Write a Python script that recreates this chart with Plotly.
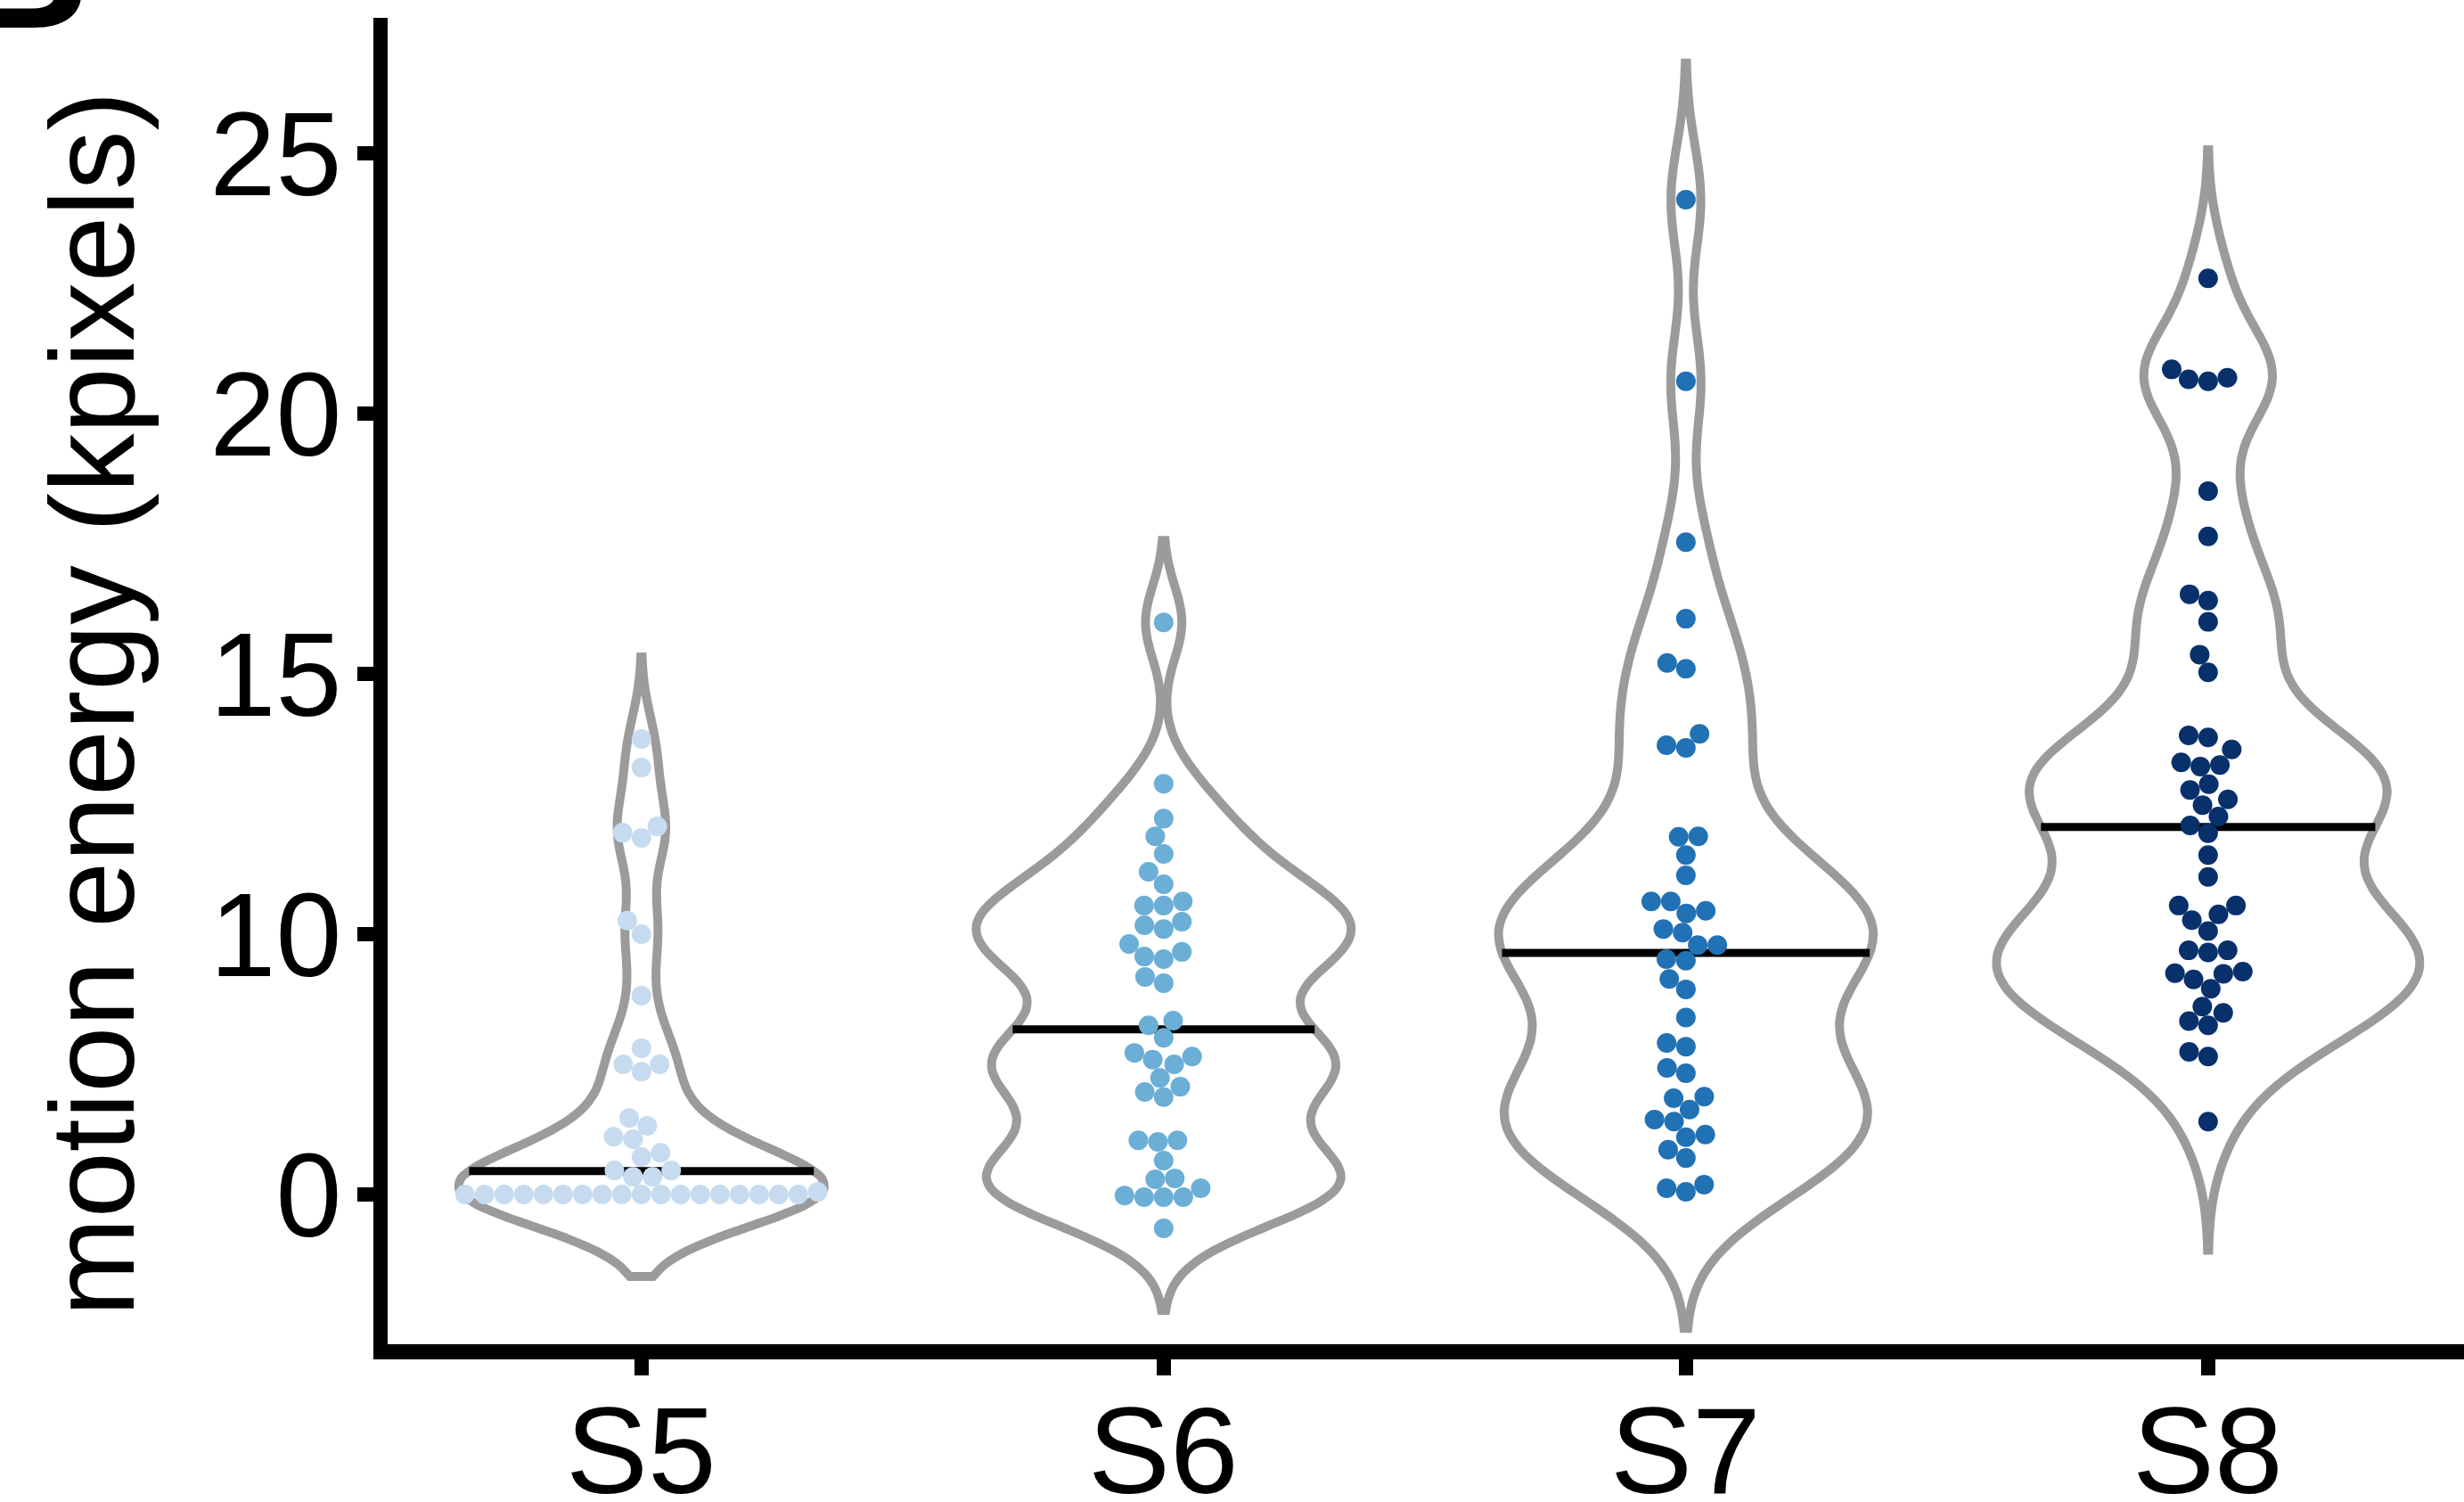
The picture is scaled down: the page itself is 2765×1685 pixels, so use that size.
import numpy as np
import plotly.graph_objects as go

# ---------------- data ----------------
categories = ["S5", "S6", "S7", "S8"]

s5_values = [13.75, 13.20, 12.07, 11.95, 11.85, 10.26, 10.00, 8.82, 7.81, 7.50,
             7.50, 7.36, 6.47, 6.32, 6.11, 6.06, 5.80, 5.72, 5.46, 5.46,
             5.34, 5.34, 5.05, 5.00, 5.00, 5.00, 5.00, 5.00, 5.00, 5.00,
             5.00, 5.00, 5.00, 5.00, 5.00, 5.00, 5.00, 5.00, 5.00, 5.00, 5.00]
s6_values = [15.99, 12.89, 12.22, 11.88, 11.54, 11.20, 10.96, 10.63, 10.55, 10.55,
             10.24, 10.10, 10.17, 9.81, 9.57, 9.52, 9.66, 9.18, 9.06, 8.25,
             8.34, 8.01, 7.72, 7.59, 7.50, 7.65, 7.24, 6.97, 6.87, 7.07,
             6.04, 6.01, 6.04, 5.65, 5.29, 5.31, 4.98, 4.95, 4.95, 4.95,
             5.12, 4.35]
s7_values = [24.11, 20.62, 17.53, 16.06, 15.21, 15.10, 13.63, 13.58, 13.85, 11.87,
             11.88, 11.52, 11.13, 10.63, 10.63, 10.45, 10.40, 10.03, 10.10, 9.79,
             9.79, 9.52, 9.49, 9.14, 8.94, 8.40, 7.91, 7.84, 7.43, 7.33,
             6.85, 6.88, 6.63, 6.44, 6.40, 6.10, 6.15, 5.86, 5.70, 5.12,
             5.05, 5.19]
s8_values = [22.60, 20.85, 20.66, 20.62, 20.69, 18.51, 17.64, 16.53, 16.41, 16.00,
             15.37, 15.03, 13.82, 13.78, 13.55, 13.30, 13.22, 13.25, 12.88, 12.77,
             12.59, 12.48, 12.26, 12.09, 11.94, 11.52, 11.10, 10.55, 10.55, 10.38,
             10.27, 10.06, 9.69, 9.65, 9.69, 9.28, 9.24, 9.25, 9.13, 8.95,
             8.61, 8.49, 8.33, 8.25, 7.74, 7.65, 6.40]
medians = [5.45, 8.17, 9.64, 12.06]

y_tick_values = [5, 10, 15, 20, 25]
y_tick_labels = ["0", "10", "15", "20", "25"]
y_title = "motion energy (kpixels)"
panel_label = "B"

# ---------------- styling / layout ----------------
series = [s5_values, s6_values, s7_values, s8_values]
dot_colors = ["#c6dbef", "#6baed6", "#2171b5", "#08306b"]
violin_widths = [0.695, 0.717, 0.717, 0.807]
bandwidths = [0.70, 0.70, 1.05, 0.95]
cuts = [2.25, 2.25, 2.5, 2.6]
FONT = "Liberation Sans, Arial, Helvetica, sans-serif"

W, H = 2765, 1685
M_L, M_R, M_T, M_B = 435, 0, 20, 177
x_range = [-0.486, 3.49]
y_range = [2.123, 27.603]
PW = W - M_L - M_R
PH = H - M_T - M_B
px_per_x = PW / (x_range[1] - x_range[0])
px_per_y = PH / (y_range[1] - y_range[0])

DOT = 22
positions = list(range(len(categories)))


def swarm_offsets(values, d_px):
    """Beeswarm ('swarm' method, ascending priority) offsets in pixels."""
    ys = np.asarray(values, dtype=float) * px_per_y
    order = np.argsort(ys, kind="stable")
    px_list, py_list = [], []
    offs = np.zeros(len(ys))
    for i in order:
        y = ys[i]
        cands = [0.0]
        for ox, oy in zip(px_list, py_list):
            dy = abs(oy - y)
            if dy < d_px:
                dx = np.sqrt(d_px ** 2 - dy ** 2)
                cands.extend([ox - dx, ox + dx])
        valid = []
        for c in cands:
            ok = True
            for ox, oy in zip(px_list, py_list):
                if (c - ox) ** 2 + (y - oy) ** 2 < d_px ** 2 - 1e-6:
                    ok = False
                    break
            if ok:
                valid.append(c)
        best = min(valid, key=lambda c: (round(abs(c), 6), c))
        offs[i] = best
        px_list.append(best)
        py_list.append(y)
    return offs


def kde(vals, bw):
    vals = np.asarray(vals, dtype=float)
    n = len(vals)

    def f(x):
        x = np.atleast_1d(x)[:, None]
        return np.exp(-0.5 * ((x - vals[None, :]) / bw) ** 2).sum(axis=1) / (n * bw * np.sqrt(2 * np.pi))
    return f


fig = go.Figure()

# violins
for cat, pos, vals, w, bw, cut in zip(categories, positions, series, violin_widths, bandwidths, cuts):
    lo, hi = min(vals) - cut * bw, max(vals) + cut * bw
    fig.add_trace(go.Violin(
        y=vals, x0=pos, name=cat, width=w, bandwidth=bw,
        spanmode="manual", span=[lo, hi], points=False,
        line=dict(color="#9b9b9b", width=10), fillcolor="white",
        box_visible=False, meanline_visible=False, side="both",
        hoverinfo="skip", showlegend=False,
    ))

# median lines across each violin (width = density at the median)
for pos, vals, w, bw, cut, med in zip(positions, series, violin_widths, bandwidths, cuts, medians):
    lo, hi = min(vals) - cut * bw, max(vals) + cut * bw
    nstep = int(np.ceil((hi - lo) / (bw / 3)))
    grid = np.linspace(lo, hi, nstep + 1)
    f = kde(vals, bw)
    dmax = f(grid).max()
    half = f(med)[0] / dmax * w / 2
    fig.add_trace(go.Scatter(
        x=[pos - half, pos + half], y=[med, med], mode="lines",
        line=dict(color="black", width=9), hoverinfo="skip", showlegend=False,
    ))

# beeswarm dots
for pos, vals, col in zip(positions, series, dot_colors):
    offs = swarm_offsets(vals, DOT) / px_per_x
    fig.add_trace(go.Scatter(
        x=pos + offs, y=vals, mode="markers",
        marker=dict(size=DOT, color=col, line=dict(width=0)),
        hoverinfo="skip", showlegend=False,
    ))

B_SIZE = 200
annotations = [
    dict(text=y_title, textangle=-90, xref="paper", yref="paper",
         x=(104 - M_L) / PW, y=1 - (790 - M_T) / PH,
         xanchor="center", yanchor="middle", showarrow=False,
         font=dict(size=133, family=FONT, color="black")),
    # panel letter, mostly outside the page (as in the reference)
    dict(text="<b>" + panel_label + "</b>", xref="paper", yref="paper",
         x=(102 - M_L) / PW, y=1 - (75 - M_T) / PH,
         xanchor="right", yanchor="bottom", showarrow=False,
         font=dict(size=B_SIZE, family=FONT, color="black")),
]
# x category labels
for pos, cat in zip(positions, categories):
    annotations.append(dict(
        text=cat, xref="x", yref="paper", x=pos, y=1 - (1548 - M_T) / PH,
        xanchor="center", yanchor="top", showarrow=False,
        font=dict(size=138, family=FONT, color="black")))

fig.update_layout(
    width=W, height=H,
    margin=dict(l=M_L, r=M_R, t=M_T, b=M_B, pad=0, autoexpand=False),
    paper_bgcolor="white", plot_bgcolor="white",
    violinmode="overlay",
    font=dict(family=FONT, color="black"),
    xaxis=dict(
        type="linear", range=x_range, tickvals=positions, ticktext=categories,
        showticklabels=False, automargin=False,
        showline=True, linewidth=17, linecolor="black",
        ticks="outside", ticklen=18, tickwidth=16, tickcolor="black",
        showgrid=False, zeroline=False,
    ),
    yaxis=dict(
        type="linear", range=y_range, tickvals=y_tick_values, ticktext=y_tick_labels,
        automargin=False, ticklabelstandoff=-9,
        showline=True, linewidth=16, linecolor="black",
        ticks="outside", ticklen=18, tickwidth=16, tickcolor="black",
        tickfont=dict(size=133, family=FONT, color="black"),
        showgrid=False, zeroline=False,
    ),
    annotations=annotations,
)

fig.write_html("out.html")
